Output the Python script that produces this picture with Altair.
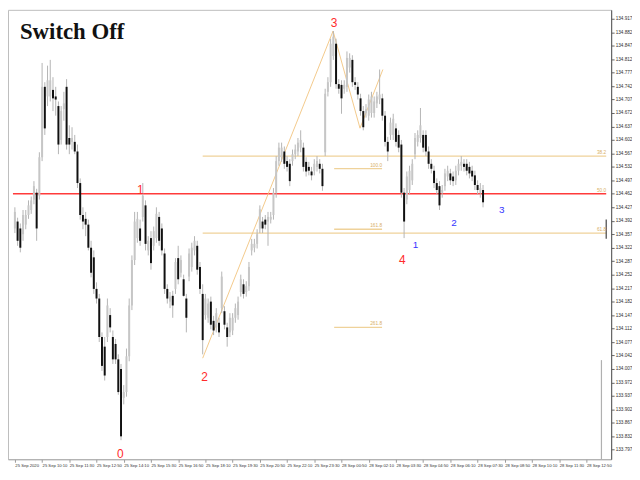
import altair as alt
import pandas as pd

# ---------------- data ----------------
opens = [134.372, 134.39, 134.372, 134.357, 134.382, 134.407, 134.42, 134.447, 134.465, 134.457,
         134.557, 134.74, 134.715, 134.715, 134.732, 134.715, 134.69, 134.602, 134.682, 134.74,
         134.607, 134.597, 134.597, 134.572, 134.49, 134.407, 134.397, 134.382, 134.322, 134.297,
         134.215, 134.19, 134.09, 134.065, 134.09, 134.147, 134.09, 134.072, 134.032, 134.007,
         133.932, 133.947, 134.04, 134.172, 134.29, 134.347, 134.372, 134.402, 134.432, 134.315,
         134.347, 134.327, 134.347, 134.402, 134.372, 134.307, 134.215, 134.182, 134.197, 134.215,
         134.295, 134.257, 134.24, 134.19, 134.247, 134.272, 134.315, 134.327, 134.272, 134.202,
         134.147, 134.14, 134.182, 134.132, 134.115, 134.127, 134.165, 134.157, 134.115, 134.102,
         134.107, 134.14, 134.147, 134.207, 134.227, 134.207, 134.222, 134.315, 134.322, 134.332,
         134.372, 134.39, 134.395, 134.39, 134.395, 134.407, 134.465, 134.547, 134.557, 134.572,
         134.547, 134.54, 134.547, 134.565, 134.572, 134.582, 134.582, 134.545, 134.532, 134.52,
         134.522, 134.532, 134.54, 134.527, 134.57, 134.727, 134.752, 134.82, 134.852, 134.747,
         134.745, 134.735, 134.74, 134.79, 134.81, 134.752, 134.74, 134.71, 134.677, 134.672,
         134.665, 134.672, 134.672, 134.697, 134.707, 134.71, 134.665, 134.597, 134.615, 134.615,
         134.632, 134.615, 134.59, 134.465, 134.447, 134.472, 134.497, 134.565, 134.597, 134.607,
         134.615, 134.615, 134.572, 134.54, 134.522, 134.49, 134.482, 134.465, 134.482, 134.507,
         134.515, 134.507, 134.497, 134.522, 134.535, 134.54, 134.54, 134.532, 134.522, 134.51,
         134.485, 134.465, 134.472]
closes = [134.415, 134.34, 134.322, 134.407, 134.407, 134.432, 134.445, 134.482, 134.372, 134.557,
          134.74, 134.632, 134.757, 134.757, 134.71, 134.707, 134.59, 134.677, 134.697, 134.59,
          134.59, 134.607, 134.572, 134.49, 134.407, 134.39, 134.382, 134.322, 134.257, 134.215,
          134.19, 134.09, 134.015, 133.99, 134.172, 134.115, 134.032, 134.032, 133.947, 133.832,
          133.947, 134.04, 134.172, 134.29, 134.39, 134.397, 134.34, 134.457, 134.332, 134.34,
          134.282, 134.365, 134.41, 134.34, 134.315, 134.215, 134.19, 134.195, 134.172, 134.285,
          134.24, 134.29, 134.197, 134.14, 134.307, 134.322, 134.34, 134.265, 134.215, 134.082,
          134.19, 134.177, 134.122, 134.107, 134.152, 134.102, 134.247, 134.122, 134.09, 134.14,
          134.14, 134.165, 134.182, 134.24, 134.202, 134.222, 134.272, 134.332, 134.332, 134.357,
          134.422, 134.372, 134.382, 134.402, 134.402, 134.465, 134.547, 134.582, 134.582, 134.54,
          134.532, 134.495, 134.565, 134.577, 134.595, 134.602, 134.532, 134.52, 134.522, 134.51,
          134.54, 134.547, 134.527, 134.482, 134.722, 134.752, 134.852, 134.87, 134.747, 134.735,
          134.71, 134.745, 134.815, 134.815, 134.752, 134.745, 134.72, 134.677, 134.635, 134.682,
          134.707, 134.715, 134.702, 134.715, 134.72, 134.665, 134.597, 134.572, 134.647, 134.657,
          134.597, 134.582, 134.465, 134.39, 134.507, 134.522, 134.54, 134.607, 134.615, 134.64,
          134.582, 134.572, 134.54, 134.527, 134.49, 134.472, 134.432, 134.472, 134.515, 134.522,
          134.497, 134.495, 134.522, 134.54, 134.545, 134.532, 134.522, 134.515, 134.507, 134.485,
          134.472, 134.477, 134.44]
highs = [134.427, 134.40, 134.385, 134.42, 134.42, 134.445, 134.455, 134.495, 134.475, 134.57,
         134.802, 134.752, 134.795, 134.81, 134.765, 134.74, 134.702, 134.69, 134.727, 134.76,
         134.64, 134.635, 134.615, 134.59, 134.502, 134.427, 134.415, 134.395, 134.34, 134.315,
         134.232, 134.202, 134.102, 134.09, 134.19, 134.165, 134.107, 134.085, 134.045, 134.02,
         133.965, 134.06, 134.19, 134.302, 134.415, 134.415, 134.395, 134.49, 134.445, 134.352,
         134.365, 134.377, 134.427, 134.415, 134.385, 134.32, 134.227, 134.207, 134.21, 134.295,
         134.327, 134.302, 134.252, 134.202, 134.32, 134.335, 134.352, 134.34, 134.285, 134.227,
         134.202, 134.19, 134.195, 134.145, 134.165, 134.14, 134.26, 134.17, 134.127, 134.152,
         134.152, 134.177, 134.195, 134.252, 134.24, 134.235, 134.285, 134.345, 134.345, 134.37,
         134.432, 134.402, 134.407, 134.415, 134.415, 134.477, 134.56, 134.595, 134.595, 134.585,
         134.56, 134.552, 134.577, 134.59, 134.607, 134.627, 134.595, 134.557, 134.545, 134.532,
         134.552, 134.56, 134.552, 134.54, 134.735, 134.765, 134.865, 134.885, 134.865, 134.76,
         134.757, 134.757, 134.832, 134.827, 134.822, 134.765, 134.752, 134.722, 134.69, 134.695,
         134.72, 134.727, 134.715, 134.727, 134.785, 134.722, 134.677, 134.61, 134.66, 134.67,
         134.645, 134.627, 134.602, 134.477, 134.52, 134.535, 134.552, 134.62, 134.627, 134.685,
         134.627, 134.627, 134.585, 134.552, 134.535, 134.502, 134.495, 134.485, 134.527, 134.535,
         134.527, 134.52, 134.535, 134.552, 134.56, 134.552, 134.552, 134.545, 134.535, 134.522,
         134.497, 134.49, 134.485]
lows = [134.36, 134.327, 134.31, 134.34, 134.37, 134.397, 134.41, 134.435, 134.34, 134.447,
        134.547, 134.615, 134.69, 134.702, 134.677, 134.665, 134.565, 134.59, 134.652, 134.577,
        134.565, 134.577, 134.565, 134.477, 134.395, 134.37, 134.352, 134.315, 134.245, 134.202,
        134.177, 134.077, 134.002, 133.977, 134.077, 134.102, 134.02, 134.02, 133.94, 133.822,
        133.915, 133.935, 134.027, 134.16, 134.277, 134.335, 134.327, 134.39, 134.315, 134.302,
        134.265, 134.315, 134.335, 134.327, 134.302, 134.202, 134.177, 134.165, 134.14, 134.202,
        134.227, 134.245, 134.195, 134.102, 134.235, 134.26, 134.302, 134.252, 134.202, 134.045,
        134.135, 134.127, 134.11, 134.095, 134.102, 134.09, 134.152, 134.11, 134.065, 134.09,
        134.095, 134.127, 134.135, 134.195, 134.19, 134.195, 134.21, 134.302, 134.31, 134.32,
        134.36, 134.36, 134.37, 134.327, 134.385, 134.395, 134.452, 134.535, 134.545, 134.527,
        134.52, 134.482, 134.535, 134.552, 134.56, 134.57, 134.52, 134.507, 134.51, 134.497,
        134.51, 134.52, 134.515, 134.47, 134.56, 134.715, 134.74, 134.81, 134.735, 134.722,
        134.67, 134.722, 134.727, 134.777, 134.74, 134.732, 134.707, 134.665, 134.627, 134.66,
        134.652, 134.66, 134.66, 134.685, 134.695, 134.652, 134.585, 134.547, 134.602, 134.602,
        134.585, 134.57, 134.452, 134.347, 134.435, 134.46, 134.485, 134.552, 134.585, 134.595,
        134.57, 134.56, 134.527, 134.515, 134.477, 134.46, 134.42, 134.452, 134.47, 134.495,
        134.485, 134.482, 134.485, 134.51, 134.522, 134.52, 134.51, 134.502, 134.495, 134.472,
        134.46, 134.452, 134.427]

x_labels = ["25 Sep 2020", "25 Sep 10:10", "25 Sep 11:30", "25 Sep 12:50", "25 Sep 14:10",
            "25 Sep 15:30", "25 Sep 16:50", "25 Sep 18:10", "25 Sep 19:30", "25 Sep 20:50",
            "25 Sep 22:10", "25 Sep 23:30", "28 Sep 00:50", "28 Sep 02:10", "28 Sep 03:30",
            "28 Sep 04:50", "28 Sep 06:10", "28 Sep 07:30", "28 Sep 08:50", "28 Sep 10:10",
            "28 Sep 11:30", "28 Sep 12:50"]
bars_per_label = 10

y_ticks = [134.917, 134.882, 134.847, 134.812, 134.777, 134.742, 134.707, 134.672, 134.637,
           134.602, 134.567, 134.532, 134.497, 134.462, 134.427, 134.392, 134.357, 134.322,
           134.287, 134.252, 134.217, 134.182, 134.147, 134.112, 134.077, 134.042, 134.007,
           133.972, 133.937, 133.902, 133.867, 133.832, 133.797]

# Fibonacci levels: name, price, first bar, last bar
fib_names = ["38.2", "61.8", "100.0", "161.8", "261.8"]
fib_prices = [134.56, 134.36, 134.5275, 134.37, 134.115]
fib_from = [69, 69, 117.3, 117.3, 117.3]
fib_to = [217.25, 217.25, 134.9, 134.9, 134.9]

red_name = "50.0"
red_price = 134.462

# zigzag (wave 2 -> 3 -> a -> b)
zz_bar = [69, 116.9, 126.8, 135.2]
zz_price = [134.035, 134.885, 134.6325, 134.785]

# wave labels
red_waves = ["0", "1", "2", "3", "4"]
red_bar = [38.7, 46.1, 69.7, 117.3, 142.3]
red_price_lbl = [133.785, 134.4725, 133.985, 134.905, 134.29]
blue_waves = ["1", "2", "3"]
blue_bar = [147.2, 161.3, 178.9]
blue_price_lbl = [134.33, 134.385, 134.42]

X_DOMAIN = [-0.704, 217.25]
Y_DOMAIN = [133.7725, 134.94]

SMALL_FONT = "Liberation Sans"

# ---------------- build ----------------
n = len(opens)
df = pd.DataFrame({"i": list(range(n)), "open": opens, "close": closes,
                   "high": highs, "low": lows})
df["dir"] = ["up" if c >= o else "down" for o, c in zip(opens, closes)]

xs = alt.Scale(domain=X_DOMAIN, nice=False, zero=False)
ys = alt.Scale(domain=Y_DOMAIN, nice=False, zero=False)

label_arr = "[" + ",".join("'" + s + "'" for s in x_labels) + "]"
x_axis = alt.Axis(values=[k * bars_per_label for k in range(len(x_labels))],
                  labelExpr=f"{label_arr}[round(datum.value/{bars_per_label})]",
                  title=None, grid=False, labelAlign="left", labelFontSize=4.2,
                  labelColor="#333333", labelFont=SMALL_FONT, tickSize=3,
                  tickColor="#999999", domainColor="#aaaaaa", labelPadding=1,
                  labelOverlap=False, labelFlush=False)
y_axis = alt.Axis(values=y_ticks, format=".3f", orient="right", title=None, grid=False,
                  labelFontSize=4.7, labelColor="#333333", labelFont=SMALL_FONT,
                  tickSize=3, tickColor="#666666", domainColor="#555555", labelPadding=1,
                  labelOverlap=False, labelFlush=False)


def X(field):
    return alt.X(field, type="quantitative", scale=xs, axis=x_axis)


def Y(field):
    return alt.Y(field, type="quantitative", scale=ys, axis=y_axis)


wicks = alt.Chart(df).mark_rule(color="#b4b4b4", strokeWidth=1).encode(
    x=X("i"), y=Y("low"), y2="high")
bodies = alt.Chart(df).mark_bar(size=2).encode(
    x=X("i"), y=Y("open"), y2="close",
    color=alt.Color("dir:N", scale=alt.Scale(domain=["up", "down"],
                                             range=["#c6c6c6", "#111111"]), legend=None))

fib_df = pd.DataFrame({"name": fib_names, "price": fib_prices, "x0": fib_from, "x1": fib_to})
fib_lines = alt.Chart(fib_df).mark_rule(color="#efd29a", strokeWidth=1.3).encode(
    x=X("x0"), x2="x1", y=Y("price"))
fib_text = alt.Chart(fib_df).mark_text(align="right", baseline="bottom", dy=-1,
                                       fontSize=4.8, color="#d9b066",
                                       font=SMALL_FONT).encode(
    x=X("x1"), y=Y("price"), text="name:N")

red_df = pd.DataFrame({"name": [red_name], "price": [red_price],
                       "x0": [X_DOMAIN[0]], "x1": [X_DOMAIN[1]]})
red_line = alt.Chart(red_df).mark_rule(color="#ff3b3b", strokeWidth=1.6).encode(
    x=X("x0"), x2="x1", y=Y("price"))
red_text = alt.Chart(red_df).mark_text(align="right", baseline="bottom", dy=-1,
                                       fontSize=4.8, color="#d9b066",
                                       font=SMALL_FONT).encode(
    x=X("x1"), y=Y("price"), text="name:N")

zz_df = pd.DataFrame({"bar": zz_bar, "price": zz_price, "k": list(range(len(zz_bar)))})
zigzag = alt.Chart(zz_df).mark_line(color="#f2c47e", strokeWidth=0.9).encode(
    x=X("bar"), y=Y("price"), order="k:Q")

rw_df = pd.DataFrame({"t": red_waves, "bar": red_bar, "price": red_price_lbl})
red_lbl = alt.Chart(rw_df).mark_text(color="#ff2b2b", fontSize=12,
                                     font="Liberation Sans").encode(
    x=X("bar"), y=Y("price"), text="t:N")
bw_df = pd.DataFrame({"t": blue_waves, "bar": blue_bar, "price": blue_price_lbl})
blue_lbl = alt.Chart(bw_df).mark_text(color="#3535ff", fontSize=10,
                                      font="Liberation Sans").encode(
    x=X("bar"), y=Y("price"), text="t:N")

# right-edge scroll marker and price marker
side_df = pd.DataFrame({"x0": [215.5, X_DOMAIN[1]], "p0": [134.03, 134.345],
                        "p1": [Y_DOMAIN[0], 134.395], "c": ["a", "b"]})
side = alt.Chart(side_df).mark_rule(strokeWidth=1.2).encode(
    x=X("x0"), y=Y("p0"), y2="p1",
    color=alt.Color("c:N", scale=alt.Scale(domain=["a", "b"], range=["#b0b0b0", "#444444"]),
                    legend=None))

title = alt.Chart(pd.DataFrame({"t": ["Switch Off"]})).mark_text(
    align="left", baseline="middle", font="Liberation Serif", fontWeight="bold",
    fontSize=23, color="#111111").encode(
    x=alt.value(12), y=alt.value(22), text="t:N")

chart = alt.layer(fib_lines, red_line, zigzag, side, wicks, bodies, fib_text, red_text,
                  red_lbl, blue_lbl, title).resolve_scale(color="independent").properties(
    width=608, height=453, padding=0, background="white"
).configure_view(stroke="#bdbdbd", strokeWidth=1)

chart.save("out.html", embed_options={"renderer": "svg", "actions": False})
